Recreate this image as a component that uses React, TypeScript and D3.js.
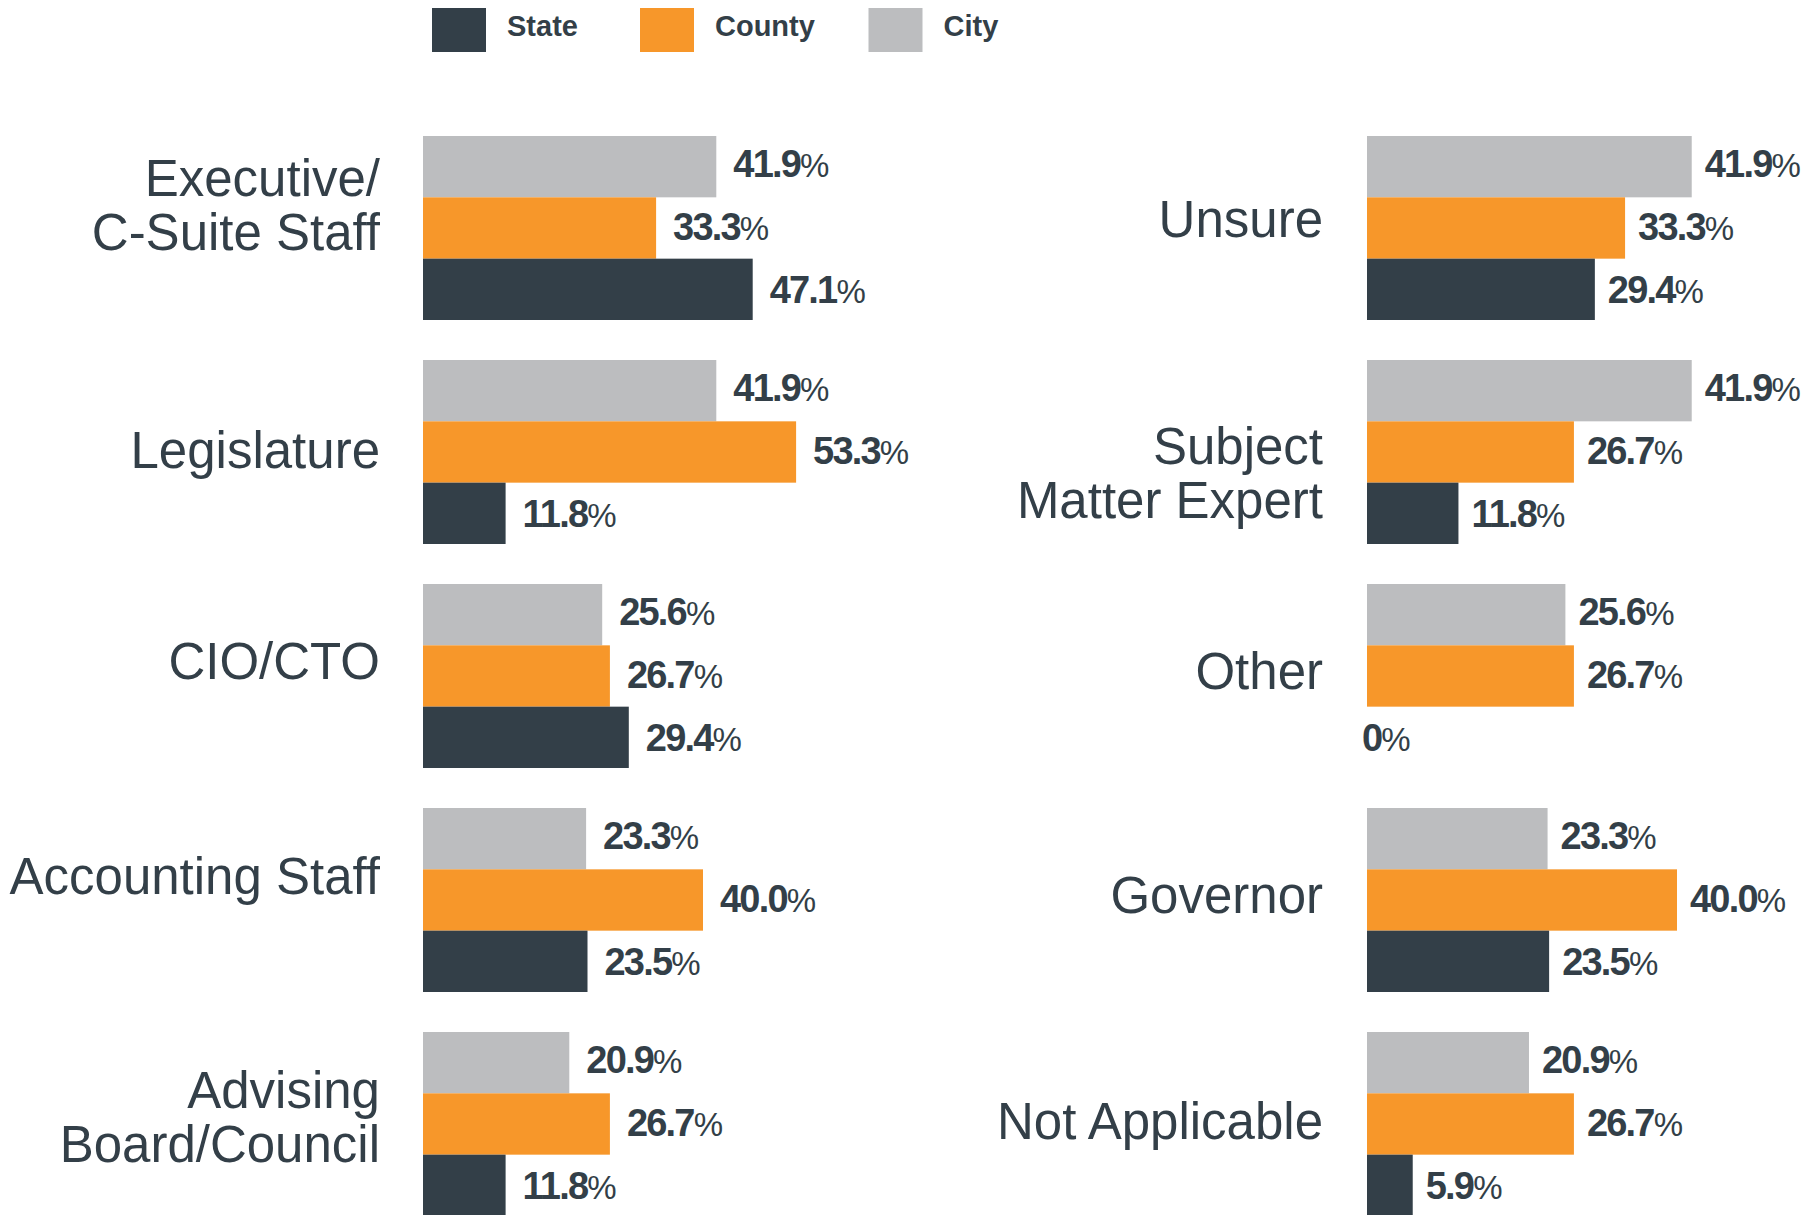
import { useEffect, useRef } from 'react';
import * as d3 from 'd3';

// categories (top to bottom) for the two panels; "\n" marks a line break
const leftCategories = ['Executive/\nC-Suite Staff', 'Legislature', 'CIO/CTO', 'Accounting Staff', 'Advising\nBoard/Council'];
const rightCategories = ['Unsure', 'Subject\nMatter Expert', 'Other', 'Governor', 'Not Applicable'];

// series, in the order the bars stack inside a group (top to bottom)
const seriesNames = ['City', 'County', 'State'];
const legendOrder = ['State', 'County', 'City'];

const leftCity = [41.9, 41.9, 25.6, 23.3, 20.9];
const leftCounty = [33.3, 53.3, 26.7, 40.0, 26.7];
const leftState = [47.1, 11.8, 29.4, 23.5, 11.8];

const rightCity = [41.9, 41.9, 25.6, 23.3, 20.9];
const rightCounty = [33.3, 26.7, 26.7, 40.0, 26.7];
const rightState = [29.4, 11.8, 0, 23.5, 5.9];

const colors: Record<string, string> = {
  State: '#333f48',
  County: '#f7972a',
  City: '#bcbdbf',
};

const textColor = '#333f48';

// small vertical tweaks of the category labels, as in the original layout
const labelNudge: Record<string, number> = {
  'Executive/\nC-Suite Staff': -23,
  'Legislature': -2,
  'CIO/CTO': -15,
  'Accounting Staff': -24,
  'Advising\nBoard/Council': -7,
  'Unsure': -9,
  'Subject\nMatter Expert': 21,
  'Other': -5,
  'Governor': -5,
  'Not Applicable': -3,
};

export default function App() {
  const svgRef = useRef<SVGSVGElement>(null);

  useEffect(() => {
    if (!svgRef.current) return;
    const svg = d3.select(svgRef.current);
    svg.selectAll('*').remove();

    const width = 1804;
    const height = 1215;
    svg.attr('width', width).attr('height', height).attr('viewBox', `0 0 ${width} ${height}`);

    const font = "'Liberation Sans', Arial, Helvetica, sans-serif";

    // group bands (shared by both panels)
    const yGroup = d3.scaleBand<number>()
      .domain(d3.range(5))
      .range([136, 1216])
      .paddingInner(0.1786)
      .paddingOuter(0);

    const yBar = d3.scaleBand<string>()
      .domain(seriesNames)
      .range([0, yGroup.bandwidth()])
      .padding(0);

    const panels = [
      {
        categories: leftCategories,
        values: { City: leftCity, County: leftCounty, State: leftState } as Record<string, number[]>,
        x0: 423,
        labelRight: 380,
        x: d3.scaleLinear().domain([0, 100]).range([0, 700]),
        gap: 17,
      },
      {
        categories: rightCategories,
        values: { City: rightCity, County: rightCounty, State: rightState } as Record<string, number[]>,
        x0: 1367,
        labelRight: 1323,
        x: d3.scaleLinear().domain([0, 100]).range([0, 775]),
        gap: 13,
      },
    ];

    const fontSize = 51;
    const lineHeight = 54;
    const capHeight = fontSize * 0.716;

    panels.forEach(panel => {
      const g = svg.append('g');

      panel.categories.forEach((cat, i) => {
        const top = yGroup(i)!;
        const center = top + yGroup.bandwidth() / 2 + (labelNudge[cat] || 0);

        // category label
        const lines = cat.split('\n');
        const block = capHeight + (lines.length - 1) * lineHeight;
        const firstBaseline = center - block / 2 + capHeight;
        const label = g.append('text')
          .attr('text-anchor', 'end')
          .attr('fill', textColor)
          .style('font-family', font)
          .style('font-size', `${fontSize}px`);
        lines.forEach((line, j) => {
          label.append('tspan')
            .attr('x', panel.labelRight)
            .attr('y', firstBaseline + j * lineHeight)
            .text(line);
        });

        // bars + value labels
        seriesNames.forEach((s, k) => {
          const v = panel.values[s][i];
          const y = top + yBar(s)!;
          const w = panel.x(v);
          if (v > 0) {
            g.append('rect')
              .attr('x', panel.x0)
              .attr('y', y)
              .attr('width', w)
              .attr('height', yBar.bandwidth())
              .attr('fill', colors[s]);
          }

          const t = g.append('text')
            .attr('x', v > 0 ? panel.x0 + w + panel.gap : panel.x0 - 5)
            .attr('y', y + yBar.bandwidth() / 2 + 10 + k * 2)
            .attr('fill', textColor)
            .style('font-family', font);
          t.append('tspan')
            .style('font-weight', '700')
            .style('font-size', '38px')
            .style('letter-spacing', '-1.8px')
            .text(v === 0 ? '0' : v.toFixed(1));
          t.append('tspan')
            .style('font-weight', '400')
            .style('font-size', '33px')
            .style('letter-spacing', '-1px')
            .text('%');
        });
      });
    });

    // legend
    const legendX = [432, 640, 868.5];
    const legend = svg.append('g');
    legendOrder.forEach((s, i) => {
      legend.append('rect')
        .attr('x', legendX[i])
        .attr('y', 8)
        .attr('width', 54)
        .attr('height', 44)
        .attr('fill', colors[s]);
      legend.append('text')
        .attr('x', legendX[i] + 75)
        .attr('y', 36)
        .attr('fill', textColor)
        .style('font-family', font)
        .style('font-size', '29px')
        .style('font-weight', '700')
        .text(s);
    });
  }, []);

  return (
    <div style={{ position: 'absolute', left: 0, top: 0, background: '#fff' }}>
      <svg ref={svgRef} style={{ display: 'block' }} />
    </div>
  );
}
